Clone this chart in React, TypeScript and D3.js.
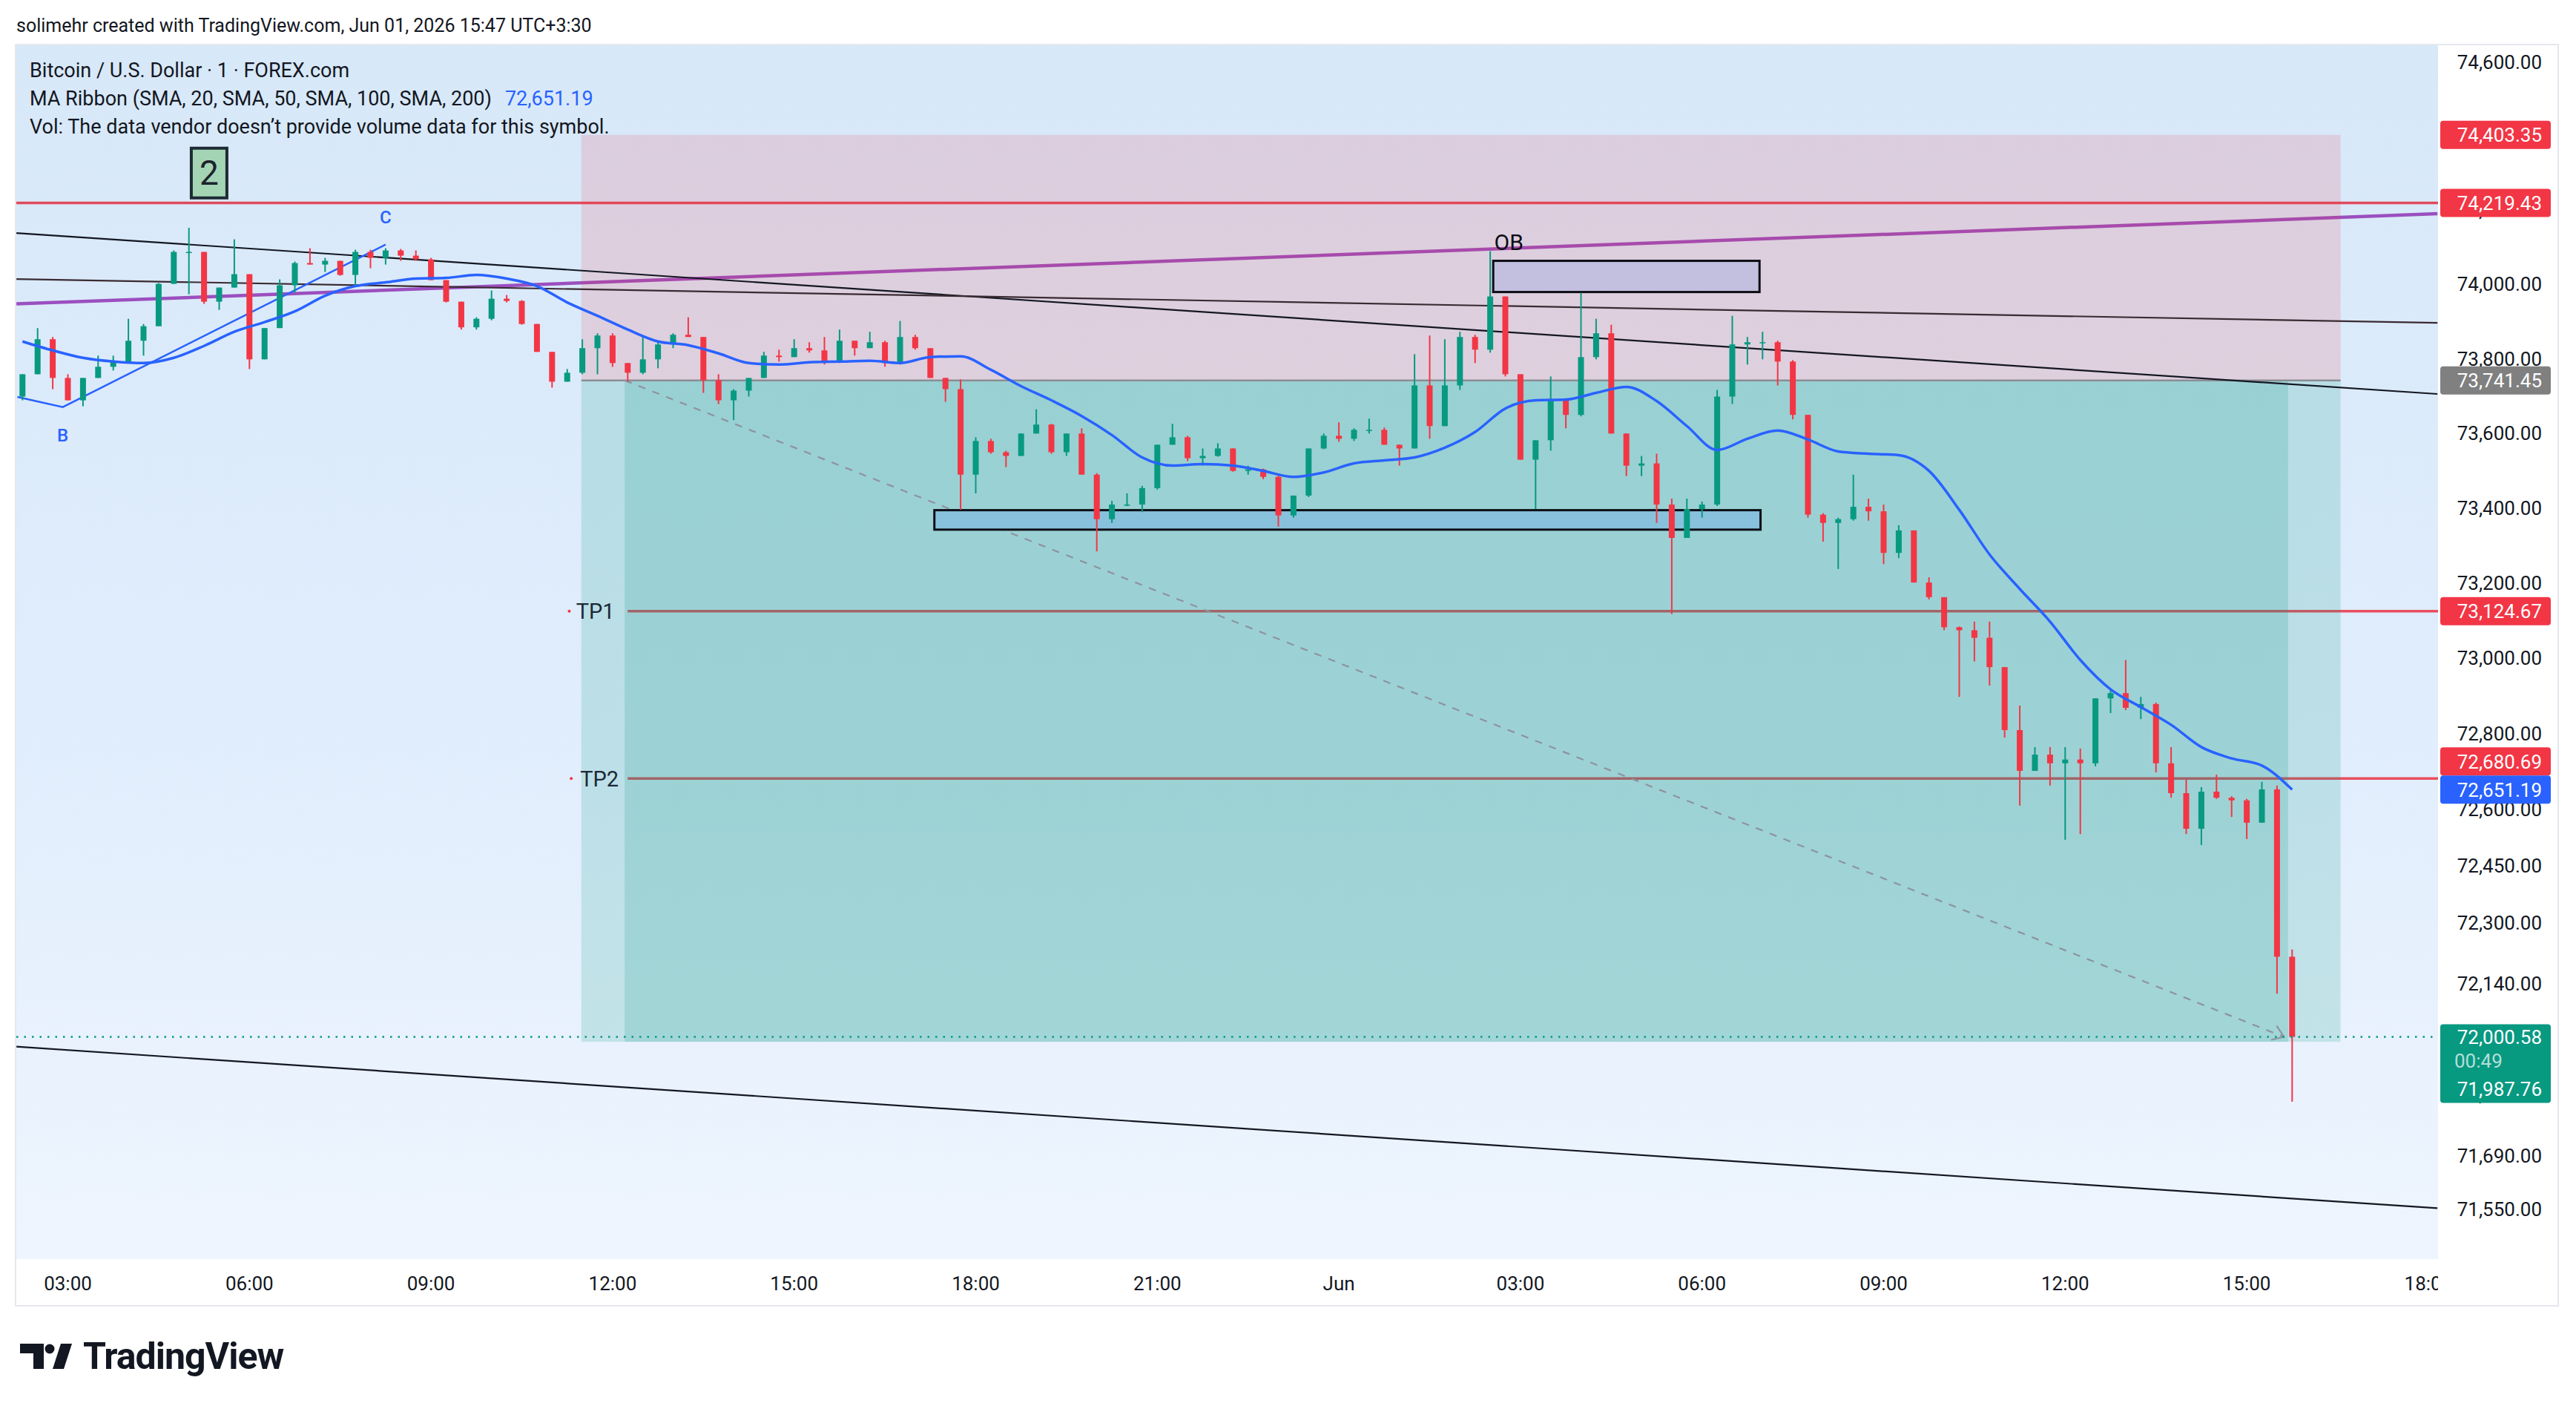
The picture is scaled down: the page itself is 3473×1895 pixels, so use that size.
import React, { useRef, useEffect } from 'react';
import * as d3 from 'd3';

const WIDTH = 3473;
const HEIGHT = 1895;

// 15 minute candles, first bar at May 31 02:15 (chart time)
const firstOpen = 73698;
const highs = [
  73758, 73882, 73858, 73758, 73748, 73808, 73808, 73907, 73893, 74003,
  74091, 74152, 74087, 73991, 74121, 74027, 73882, 74013, 74061, 74097,
  74071, 74063, 74093, 74093, 74097, 74095, 74091, 74071, 74011, 73953,
  73911, 73983, 73971, 73957, 73893, 73818, 73772, 73852, 73868, 73868,
  73788, 73858, 73848, 73868, 73911, 73858, 73758, 73718, 73748, 73818,
  73824, 73852, 73844, 73858, 73878, 73844, 73872, 73848, 73901, 73864,
  73828, 73748, 73744, 73589, 73585, 73553, 73599, 73664, 73625, 73599,
  73613, 73493, 73419, 73439, 73459, 73569, 73625, 73593, 73559, 73573,
  73559, 73513, 73505, 73489, 73433, 73559, 73599, 73629, 73613, 73639,
  73615, 73569, 73812, 73862, 73852, 73872, 73864, 74089, 73967, 73758,
  73579, 73752, 73692, 73977, 73907, 73891, 73599, 73539, 73545, 73425,
  73425, 73417, 73716, 73915, 73858, 73872, 73848, 73796, 73649, 73386,
  73374, 73489, 73425, 73409, 73354, 73340, 73215, 73162, 73084, 73097,
  73097, 72976, 72874, 72764, 72764, 72764, 72760, 72893, 72917, 72995,
  72897, 72882, 72764, 72678, 72658, 72691, 72634, 72627, 72672, 72662,
  72230,
];
const lows = [
  73688, 73758, 73718, 73688, 73672, 73748, 73768, 73788, 73808, 73887,
  74001, 73973, 73947, 73931, 73991, 73772, 73798, 73882, 73977, 74053,
  74033, 74023, 73997, 74043, 74053, 74063, 74063, 74011, 73951, 73878,
  73878, 73903, 73951, 73891, 73818, 73722, 73738, 73758, 73758, 73778,
  73738, 73758, 73774, 73828, 73858, 73708, 73678, 73635, 73698, 73748,
  73792, 73804, 73816, 73784, 73788, 73808, 73828, 73778, 73784, 73824,
  73748, 73684, 73395, 73439, 73545, 73509, 73539, 73599, 73545, 73539,
  73489, 73284, 73360, 73405, 73389, 73449, 73569, 73525, 73513, 73537,
  73497, 73489, 73477, 73350, 73374, 73429, 73557, 73577, 73579, 73599,
  73569, 73513, 73559, 73585, 73619, 73716, 73788, 73816, 73752, 73529,
  73397, 73553, 73613, 73645, 73798, 73599, 73485, 73485, 73360, 73117,
  73320, 73374, 73405, 73678, 73784, 73798, 73728, 73637, 73374, 73310,
  73237, 73366, 73366, 73250, 73266, 73201, 73156, 73074, 72897, 72991,
  72927, 72789, 72609, 72711, 72662, 72519, 72534, 72713, 72854, 72862,
  72838, 72697, 72630, 72534, 72505, 72627, 72579, 72521, 72564, 72114,
  71831,
];
const closes = [
  73758, 73852, 73748, 73688, 73748, 73778, 73792, 73848, 73887, 74001,
  74087, 74087, 73953, 73991, 74027, 73798, 73882, 73997, 74057, 74053,
  74063, 74025, 74087, 74071, 74091, 74077, 74067, 74011, 73953, 73884,
  73907, 73961, 73955, 73893, 73818, 73738, 73762, 73828, 73862, 73788,
  73762, 73798, 73838, 73864, 73858, 73742, 73688, 73714, 73748, 73808,
  73804, 73828, 73822, 73792, 73848, 73828, 73844, 73788, 73858, 73828,
  73748, 73718, 73489, 73579, 73549, 73539, 73599, 73623, 73549, 73599,
  73489, 73370, 73409, 73409, 73453, 73569, 73589, 73533, 73539, 73559,
  73499, 73503, 73483, 73380, 73433, 73559, 73593, 73585, 73609, 73609,
  73569, 73559, 73728, 73619, 73728, 73858, 73824, 73967, 73758, 73529,
  73581, 73688, 73649, 73804, 73868, 73599, 73513, 73519, 73409, 73320,
  73397, 73409, 73698, 73838, 73844, 73844, 73792, 73649, 73382, 73360,
  73370, 73403, 73391, 73280, 73340, 73201, 73162, 73082, 73074, 73054,
  72976, 72809, 72701, 72744, 72721, 72731, 72721, 72893, 72907, 72868,
  72878, 72721, 72642, 72548, 72646, 72630, 72623, 72564, 72652, 72211,
  72000.58,
];

// SMA line, read every 30 minutes from 02:15
const maValues = [
  73846, 73822, 73802, 73792, 73788, 73802, 73834, 73872, 73898, 73927,
  73969, 73995, 74005, 74015, 74017, 74025, 74015, 73995, 73951, 73915,
  73878, 73846, 73836, 73814, 73788, 73784, 73790, 73792, 73794, 73788,
  73804, 73806, 73770, 73726, 73688, 73646, 73595, 73535, 73513, 73517,
  73513, 73499, 73483, 73495, 73519, 73527, 73535, 73561, 73603, 73666,
  73688, 73690, 73708, 73724, 73686, 73619, 73555, 73585, 73607, 73583,
  73551, 73545, 73541, 73499, 73395, 73276, 73184, 73097, 72995, 72917,
  72870, 72823, 72764, 72734, 72715, 72651.19,
];

const priceTicks = [74600, 74400, 74200, 74000, 73800, 73600, 73400, 73200, 73000, 72800, 72600, 72450, 72300, 72140, 72000, 71850, 71690, 71550];
const timeTickLabels = ['03:00', '06:00', '09:00', '12:00', '15:00', '18:00', '21:00', 'Jun', '03:00', '06:00', '09:00', '12:00', '15:00', '18:00'];

// drawing levels
const stopPrice = 74403.35;
const entryPrice = 73741.45;
const targetPrice = 71987.76;
const resistancePrice = 74219.43;
const tpNames = ['TP1', 'TP2'];
const tpPrices = [73124.67, 72680.69];
const lastPrice = 72000.58;
const maLast = 72651.19;
const trendStart = [74138, 74014, 71975];
const trendEnd = [73705, 73896, 71553];
const purpleEnds = [73947, 74190];
const obBox = [74063, 73979];
const supportBox = [73394, 73342];
const bcPrices = [73697, 73670, 74107];

const t = (day, hh, mm) => new Date(Date.UTC(2026, 4, 31 + day, hh, mm));

export default function App() {
  const svgRef = useRef(null);

  useEffect(() => {
    document.body.style.margin = '0';
    const svg = d3.select(svgRef.current);
    svg.selectAll('*').remove();

    const pane = { left: 22, right: 3287, top: 61, bottom: 1697 };
    const font = 'Roboto, "Liberation Sans", sans-serif';

    const x = d3.scaleUtc().domain([t(0, 3, 0), t(1, 15, 0)]).range([91.5, 3029.1]);
    const y = d3.scaleLog().domain([71550, 74600]).range([1630, 84]);
    const fmt = d3.format(',.2f');

    const defs = svg.append('defs');
    const grad = defs.append('linearGradient').attr('id', 'bg').attr('x1', 0).attr('x2', 0).attr('y1', 0).attr('y2', 1);
    grad.append('stop').attr('offset', 0).attr('stop-color', '#d7e8f8');
    grad.append('stop').attr('offset', 0.55).attr('stop-color', '#e0edfc');
    grad.append('stop').attr('offset', 1).attr('stop-color', '#eef5fe');
    defs.append('clipPath').attr('id', 'pane')
      .append('rect').attr('x', pane.left).attr('y', pane.top)
      .attr('width', pane.right - pane.left).attr('height', pane.bottom - pane.top);
    defs.append('clipPath').attr('id', 'timeaxis')
      .append('rect').attr('x', pane.left).attr('y', pane.bottom)
      .attr('width', pane.right - pane.left).attr('height', 70);

    svg.append('rect').attr('width', WIDTH).attr('height', HEIGHT).attr('fill', '#ffffff');

    // header
    svg.append('text').attr('x', 22).attr('y', 43)
      .style('font-family', font).style('font-size', '25px').attr('fill', '#131722')
      .text('solimehr created with TradingView.com, Jun 01, 2026 15:47 UTC+3:30');

    // frame
    svg.append('rect').attr('x', 21).attr('y', 60).attr('width', 3428).attr('height', 1700)
      .attr('fill', 'none').attr('stroke', '#e6e8ee').attr('stroke-width', 2);
    svg.append('rect').attr('x', pane.left).attr('y', pane.top)
      .attr('width', pane.right - pane.left).attr('height', pane.bottom - pane.top)
      .attr('fill', 'url(#bg)');

    const plot = svg.append('g').attr('clip-path', 'url(#pane)');
    const tLeft = t(0, 2, 9);
    const tRight = t(1, 18, 9);

    // lines that sit under the position zones
    plot.append('line')
      .attr('x1', pane.left).attr('x2', pane.right)
      .attr('y1', y(resistancePrice)).attr('y2', y(resistancePrice))
      .attr('stroke', '#e04a5c').attr('stroke-width', 3.5);
    plot.append('line')
      .attr('x1', x(tLeft)).attr('y1', y(purpleEnds[0]))
      .attr('x2', x(tRight)).attr('y2', y(purpleEnds[1]))
      .attr('stroke', '#9b4fbf').attr('stroke-width', 4.5);
    const tpStart = t(0, 12, 15);
    tpPrices.forEach(p => {
      plot.append('line')
        .attr('x1', x(tpStart)).attr('x2', pane.right)
        .attr('y1', y(p)).attr('y2', y(p))
        .attr('stroke', '#e84f5f').attr('stroke-width', 3.5);
    });

    // short position zones
    const posL = x(t(0, 11, 29));
    const posR = x(t(1, 16, 33));
    const progL = x(t(0, 12, 12));
    const progR = x(t(1, 15, 41));
    plot.append('rect').attr('x', posL).attr('width', posR - posL)
      .attr('y', y(stopPrice)).attr('height', y(entryPrice) - y(stopPrice))
      .attr('fill', 'rgba(242,54,69,0.15)');
    plot.append('rect').attr('x', posL).attr('width', posR - posL)
      .attr('y', y(entryPrice)).attr('height', y(targetPrice) - y(entryPrice))
      .attr('fill', 'rgba(8,153,129,0.165)');
    plot.append('rect').attr('x', progL).attr('width', progR - progL)
      .attr('y', y(entryPrice)).attr('height', y(targetPrice) - y(entryPrice))
      .attr('fill', 'rgba(8,153,129,0.174)');
    plot.append('line').attr('x1', posL).attr('x2', posR)
      .attr('y1', y(entryPrice)).attr('y2', y(entryPrice))
      .attr('stroke', '#8a8d94').attr('stroke-width', 2.5);

    // dashed path of the position
    const ax1 = progL, ay1 = y(entryPrice);
    const ax2 = x(t(1, 15, 37)), ay2 = y(lastPrice);
    plot.append('line').attr('x1', ax1).attr('y1', ay1).attr('x2', ax2).attr('y2', ay2)
      .attr('stroke', '#8d939e').attr('stroke-width', 2.2).attr('stroke-dasharray', '10 10');
    const ang = Math.atan2(ay2 - ay1, ax2 - ax1);
    [-0.6, 0.6].forEach(da => {
      plot.append('line').attr('x1', ax2).attr('y1', ay2)
        .attr('x2', ax2 - 18 * Math.cos(ang + da)).attr('y2', ay2 - 18 * Math.sin(ang + da))
        .attr('stroke', '#8d939e').attr('stroke-width', 2.2);
    });

    // trend lines
    const trendColors = ['#131722', '#3a2a32', '#131722'];
    trendStart.forEach((p, i) => {
      plot.append('line')
        .attr('x1', x(tLeft)).attr('y1', y(p))
        .attr('x2', x(tRight)).attr('y2', y(trendEnd[i]))
        .attr('stroke', trendColors[i]).attr('stroke-width', 2.2);
    });

    // boxes
    const box = (t1, t2, prices, fill) => {
      plot.append('rect').attr('x', x(t1)).attr('width', x(t2) - x(t1))
        .attr('y', y(prices[0])).attr('height', y(prices[1]) - y(prices[0]))
        .attr('fill', fill).attr('stroke', '#0c0e15').attr('stroke-width', 3);
    };
    box(t(1, 2, 33), t(1, 6, 57), obBox, '#c3bfdf');
    box(t(0, 17, 19), t(1, 6, 58), supportBox, '#88c1dc');

    // B - C drawing
    const bcTimes = [t(0, 2, 10), t(0, 2, 55), t(0, 8, 15)];
    plot.append('path')
      .datum(bcTimes.map((d, i) => [x(d), y(bcPrices[i])]))
      .attr('d', d3.line())
      .attr('fill', 'none').attr('stroke', '#2962ff').attr('stroke-width', 2.5);

    // candles
    const t0 = t(0, 2, 15).getTime();
    const bars = closes.map((c, i) => ({
      t: new Date(t0 + i * 15 * 60000),
      o: i === 0 ? firstOpen : closes[i - 1],
      h: highs[i], l: lows[i], c,
    }));
    const bw = 8;
    const cg = plot.append('g');
    const candle = cg.selectAll('g').data(bars).enter().append('g');
    const colorOf = d => (d.c >= d.o ? '#089981' : '#f23645');
    candle.append('line')
      .attr('x1', d => x(d.t)).attr('x2', d => x(d.t))
      .attr('y1', d => y(Math.max(d.h, d.o, d.c)))
      .attr('y2', d => y(Math.min(d.l, d.o, d.c)))
      .attr('stroke', colorOf).attr('stroke-width', 2);
    candle.append('rect')
      .attr('x', d => x(d.t) - bw / 2).attr('width', bw)
      .attr('y', d => y(Math.max(d.o, d.c)))
      .attr('height', d => Math.max(1.5, y(Math.min(d.o, d.c)) - y(Math.max(d.o, d.c))))
      .attr('fill', colorOf);

    // moving average
    const maData = maValues.map((v, i) => ({ t: new Date(t0 + i * 30 * 60000), v }));
    plot.append('path').datum(maData)
      .attr('d', d3.line().x(d => x(d.t)).y(d => y(d.v)).curve(d3.curveMonotoneX))
      .attr('fill', 'none').attr('stroke', '#2962ff').attr('stroke-width', 3.5);

    // last price line
    plot.append('line').attr('x1', pane.left).attr('x2', pane.right)
      .attr('y1', y(lastPrice)).attr('y2', y(lastPrice))
      .attr('stroke', '#089981').attr('stroke-width', 2.5).attr('stroke-dasharray', '2.5 8');

    // annotation texts
    plot.append('text').attr('x', x(t(1, 2, 34))).attr('y', y(obBox[0]) - 15)
      .style('font-family', font).style('font-size', '30px').attr('fill', '#0c0e15').text('OB');
    const tpTextEnd = [t(0, 12, 2), t(0, 12, 6)];
    const tpDot = [t(0, 11, 17), t(0, 11, 19)];
    tpNames.forEach((n, i) => {
      plot.append('text').attr('x', x(tpTextEnd[i])).attr('y', y(tpPrices[i])).attr('dy', '0.36em')
        .attr('text-anchor', 'end').style('font-family', font).style('font-size', '29px')
        .attr('fill', '#1b2a36').text(n);
      plot.append('circle').attr('cx', x(tpDot[i])).attr('cy', y(tpPrices[i])).attr('r', 2)
        .attr('fill', '#f23645');
    });
    plot.append('text').attr('x', x(t(0, 2, 55))).attr('y', y(73595)).attr('dy', '0.36em')
      .attr('text-anchor', 'middle').style('font-family', font).style('font-size', '24px')
      .style('font-weight', 500).attr('fill', '#2962ff').text('B');
    plot.append('text').attr('x', x(t(0, 8, 15))).attr('y', y(74182)).attr('dy', '0.36em')
      .attr('text-anchor', 'middle').style('font-family', font).style('font-size', '24px')
      .style('font-weight', 500).attr('fill', '#2962ff').text('C');
    const nx = x(t(0, 5, 20)), ny = y(74301);
    plot.append('rect').attr('x', nx - 24).attr('y', ny - 33).attr('width', 48).attr('height', 67)
      .attr('fill', '#a3d5b4').attr('stroke', '#1e2a33').attr('stroke-width', 4);
    plot.append('text').attr('x', nx).attr('y', ny).attr('dy', '0.36em').attr('text-anchor', 'middle')
      .style('font-family', font).style('font-size', '46px').attr('fill', '#1e222d').text('2');

    // legend
    const legend = svg.append('g').style('font-family', font).style('font-size', '27px').attr('fill', '#131722');
    legend.append('text').attr('x', 40).attr('y', 104).text('Bitcoin / U.S. Dollar · 1 · FOREX.com');
    const maText = legend.append('text').attr('x', 40).attr('y', 142);
    maText.append('tspan').text('MA Ribbon (SMA, 20, SMA, 50, SMA, 100, SMA, 200)');
    maText.append('tspan').attr('dx', 18).attr('fill', '#2962ff').text(fmt(maLast));
    legend.append('text').attr('x', 40).attr('y', 180).text('Vol: The data vendor doesn\u2019t provide volume data for this symbol.');

    // price axis
    const axis = svg.append('g').style('font-family', font).style('font-size', '26px');
    axis.selectAll('text.tick').data(priceTicks).enter().append('text')
      .attr('x', 3427).attr('y', d => y(d)).attr('dy', '0.36em').attr('text-anchor', 'end')
      .attr('fill', '#131722').text(d => fmt(d));
    const tag = (cy, txt, fill) => {
      axis.append('rect').attr('x', 3290).attr('y', cy - 19).attr('width', 149).attr('height', 38)
        .attr('rx', 4).attr('fill', fill);
      axis.append('text').attr('x', 3427).attr('y', cy).attr('dy', '0.36em').attr('text-anchor', 'end')
        .attr('fill', '#ffffff').text(txt);
    };
    tag(y(stopPrice), fmt(stopPrice), '#f23645');
    tag(y(resistancePrice), fmt(resistancePrice), '#f23645');
    tag(y(entryPrice), fmt(entryPrice), '#808080');
    tag(y(tpPrices[0]), fmt(tpPrices[0]), '#f23645');
    tag(y(maLast) - 38, fmt(tpPrices[1]), '#f23645');
    tag(y(maLast), fmt(maLast), '#2962ff');
    const ly = y(lastPrice);
    axis.append('rect').attr('x', 3290).attr('y', ly - 17).attr('width', 149).attr('height', 106)
      .attr('rx', 4).attr('fill', '#089981');
    axis.append('text').attr('x', 3427).attr('y', ly).attr('dy', '0.36em').attr('text-anchor', 'end')
      .attr('fill', '#ffffff').text(fmt(lastPrice));
    axis.append('text').attr('x', 3309).attr('y', ly + 32).attr('dy', '0.36em')
      .attr('fill', 'rgba(255,255,255,0.7)').text('00:49');
    axis.append('text').attr('x', 3427).attr('y', ly + 70).attr('dy', '0.36em').attr('text-anchor', 'end')
      .attr('fill', '#ffffff').text(fmt(targetPrice));

    // time axis
    const timeTicks = timeTickLabels.map((_, i) => new Date(t(0, 3, 0).getTime() + i * 3 * 3600000));
    svg.append('g').attr('clip-path', 'url(#timeaxis)')
      .style('font-family', font).style('font-size', '26px')
      .selectAll('text').data(timeTicks).enter().append('text')
      .attr('x', d => x(d)).attr('y', 1739).attr('text-anchor', 'middle').attr('fill', '#131722')
      .text((d, i) => timeTickLabels[i]);

    // TradingView logo
    const logo = svg.append('g').attr('fill', '#131722');
    logo.append('path').attr('d', 'M27 1811 H59 V1845 H45 V1824 H27 Z');
    logo.append('circle').attr('cx', 67).attr('cy', 1818).attr('r', 6.5);
    logo.append('path').attr('d', 'M82 1811 H97 L86 1845 H71 Z');
    logo.append('text').attr('x', 112).attr('y', 1845)
      .style('font-family', font).style('font-size', '50px').style('font-weight', 700)
      .style('letter-spacing', '-1px').text('TradingView');

    return () => {
      svg.selectAll('*').remove();
    };
  }, []);

  return (
    <svg ref={svgRef} width={WIDTH} height={HEIGHT} style={{ display: 'block' }}></svg>
  );
}
